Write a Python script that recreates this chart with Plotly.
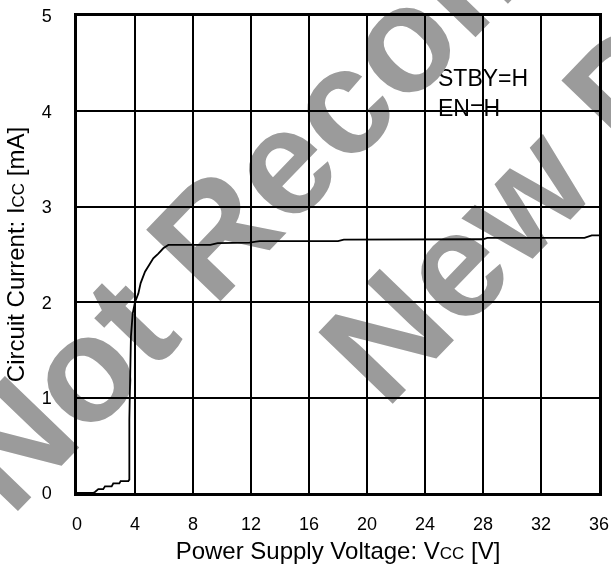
import math
import plotly.graph_objects as go

# ---- data ----
vcc = [0, 1.1, 1.24, 1.47, 1.81, 1.93, 2.39, 2.5, 2.92, 3.01, 3.54, 3.61, 3.61, 3.64,
       3.72, 3.84, 4.0, 4.23, 4.39, 4.69, 5.03, 5.26, 5.61, 5.95, 6.3, 9.2, 9.7, 11.9,
       12.6, 18.0, 18.4, 28.0, 28.3, 35.0, 35.5, 36.0]
icc = [0, 0, 0.01, 0.04, 0.04, 0.07, 0.07, 0.10, 0.10, 0.125, 0.125, 0.14, 0.77, 1.0,
       1.64, 1.88, 2.0, 2.09, 2.20, 2.32, 2.41, 2.46, 2.51, 2.565, 2.60, 2.60, 2.62, 2.625,
       2.64, 2.64, 2.655, 2.66, 2.675, 2.675, 2.70, 2.70]
x_ticks = [0, 4, 8, 12, 16, 20, 24, 28, 32, 36]
y_ticks = [0, 1, 2, 3, 4, 5]
condition_text = "STBY=H<br>EN=H"
watermark_text = "<b>Not Recommended for<br>New Designs</b>"

# ---- layout constants ----
W, H = 611, 568
ML, MR, MT, MB = 77, 12, 16, 75
PW, PH = W - ML - MR, H - MT - MB
FONT = "Liberation Sans, Arial, sans-serif"

def px_to_paper(px, py):
    return (px - ML) / PW, (MT + PH - py) / PH

fig = go.Figure()
fig.add_trace(go.Scatter(x=vcc, y=icc, mode="lines",
                         line=dict(color="black", width=1.8), showlegend=False,
                         hoverinfo="skip"))

axis_common = dict(showgrid=True, gridcolor="black", gridwidth=2, zeroline=False,
                   showline=True, linecolor="black", linewidth=2.5, mirror=True,
                   automargin=False,
                   ticks="", tickfont=dict(family=FONT, size=18, color="black"))

fig.update_xaxes(range=[0, 36], tickvals=x_ticks, ticktext=[str(v) for v in x_ticks],
                 ticklabelstandoff=13,
                 title=dict(text="Power Supply Voltage: V<span style='font-size:17px'>CC</span> [V]",
                            font=dict(family=FONT, size=24, color="black"), standoff=9),
                 **axis_common)
fig.update_yaxes(range=[0, 5], tickvals=y_ticks, ticktext=[str(v) for v in y_ticks],
                 ticklabelstandoff=19,
                 title=dict(text="Circuit Current: I<span style='font-size:17px'>CC</span> [mA]",
                            font=dict(family=FONT, size=24, color="black"), standoff=11),
                 **axis_common)

# white box behind the condition text (covers grid lines)
fig.add_shape(type="rect", xref="x", yref="y", x0=24.9, x1=34.15, y0=3.49, y1=4.51,
              fillcolor="white", line=dict(width=0), layer="above")

cx, cy = px_to_paper(436, 93)
annotations = [dict(text=condition_text, xref="paper", yref="paper", x=cx, y=cy,
                    xanchor="left", yanchor="middle", align="left", showarrow=False,
                    font=dict(family=FONT, size=23, color="black"))]

# watermark: two centred lines, rotated
ang = 46.0
fs = 150
d = (math.cos(math.radians(ang)), -math.sin(math.radians(ang)))
n = (math.sin(math.radians(ang)), math.cos(math.radians(ang)))
start = (11, 518)
half_len = 804 * fs / 150
b1c = (start[0] + half_len * d[0], start[1] + half_len * d[1])
off = 0.3035 * fs
wc = (b1c[0] + off * n[0], b1c[1] + off * n[1])
wx, wy = px_to_paper(*wc)
annotations.append(dict(text=watermark_text, xref="paper", yref="paper", x=wx, y=wy,
                        xanchor="center", yanchor="middle", align="center",
                        showarrow=False, textangle=-ang,
                        font=dict(family="Liberation Sans, Arial, sans-serif", size=fs,
                                  color="#9b9b9b")))

fig.update_layout(width=W, height=H, margin=dict(l=ML, r=MR, t=MT, b=MB, autoexpand=False),
                  paper_bgcolor="white", plot_bgcolor="white",
                  annotations=annotations, showlegend=False)

post = """
document.documentElement.style.margin = '0';
document.body.style.margin = '0';
document.body.style.overflow = 'hidden';
var s = document.querySelectorAll('.main-svg');
if (s.length > 1) { s[1].style.mixBlendMode = 'multiply'; }
"""
fig.write_html("out.html", config={"displayModeBar": False}, post_script=post)
